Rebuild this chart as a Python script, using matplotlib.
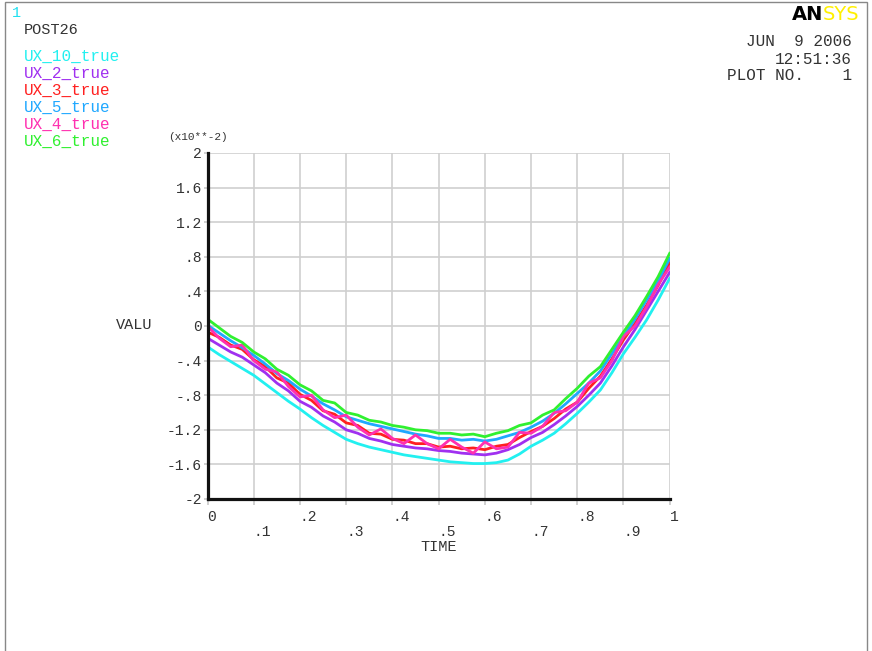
import numpy as np
import matplotlib
matplotlib.use("Agg")
import matplotlib.pyplot as plt
from matplotlib.patches import Rectangle

# ----- data (values shown in units of 1e-2)
time = np.linspace(0, 1, 41)

ux_10 = [-.24, -.33, -.41, -.49, -.57, -.67, -.77, -.87, -.96, -1.06, -1.15, -1.23, -1.31, -1.36,
         -1.40, -1.43, -1.46, -1.49, -1.51, -1.53, -1.55, -1.57, -1.58, -1.59, -1.59, -1.58, -1.55,
         -1.48, -1.39, -1.32, -1.24, -1.13, -1.01, -.88, -.74, -.54, -.32, -.13, .07, .30, .55]
ux_2 = [-.14, -.22, -.30, -.36, -.45, -.54, -.66, -.75, -.87, -.94, -1.04, -1.11, -1.20, -1.24,
        -1.30, -1.33, -1.37, -1.39, -1.41, -1.42, -1.44, -1.45, -1.47, -1.48, -1.49, -1.47, -1.43,
        -1.37, -1.29, -1.23, -1.14, -1.04, -.93, -.80, -.66, -.46, -.24, -.04, .18, .40, .62]
ux_3 = [-.07, -.13, -.22, -.27, -.39, -.47, -.60, -.66, -.79, -.86, -.98, -1.02, -1.12, -1.15,
        -1.24, -1.25, -1.31, -1.32, -1.36, -1.36, -1.40, -1.39, -1.42, -1.41, -1.43, -1.39, -1.37,
        -1.29, -1.22, -1.16, -1.07, -.96, -.88, -.72, -.58, -.38, -.16, .03, .24, .47, .73]
ux_5 = [.01, -.08, -.17, -.25, -.34, -.44, -.55, -.63, -.73, -.81, -.90, -.97, -1.05, -1.09,
        -1.13, -1.16, -1.19, -1.22, -1.25, -1.27, -1.30, -1.30, -1.32, -1.31, -1.33, -1.31, -1.27,
        -1.23, -1.17, -1.10, -1.01, -.90, -.78, -.66, -.52, -.32, -.12, .08, .30, .52, .78]
ux_4 = [.00, -.14, -.24, -.22, -.40, -.50, -.53, -.70, -.82, -.80, -.97, -1.06, -1.03, -1.17,
        -1.26, -1.19, -1.30, -1.36, -1.26, -1.36, -1.42, -1.31, -1.40, -1.47, -1.34, -1.42, -1.40,
        -1.23, -1.24, -1.16, -1.00, -.98, -.88, -.66, -.60, -.40, -.12, .00, .22, .48, .68]
ux_6 = [.08, -.02, -.12, -.19, -.30, -.38, -.50, -.57, -.68, -.75, -.86, -.89, -1.00, -1.03,
        -1.09, -1.11, -1.15, -1.17, -1.20, -1.21, -1.24, -1.24, -1.26, -1.25, -1.28, -1.24, -1.21,
        -1.15, -1.12, -1.03, -.97, -.84, -.72, -.58, -.47, -.27, -.07, .12, .34, .57, .84]

series = [ux_10, ux_2, ux_3, ux_5, ux_4, ux_6]
names = ["UX_10_true", "UX_2_true", "UX_3_true", "UX_5_true", "UX_4_true", "UX_6_true"]
colors = ["#22F0F0", "#A030F0", "#FF2020", "#20A8FF", "#FF30B0", "#30F030"]

xticks_even = [0, .2, .4, .6, .8, 1]
xlabels_even = ["0", ".2", ".4", ".6", ".8", "1"]
xticks_odd = [.1, .3, .5, .7, .9]
xlabels_odd = [".1", ".3", ".5", ".7", ".9"]
yticks = [2, 1.6, 1.2, .8, .4, 0, -.4, -.8, -1.2, -1.6, -2]
ylabels = ["2", "1.6", "1.2", ".8", ".4", "0", "-.4", "-.8", "-1.2", "-1.6", "-2"]

mono = "Liberation Mono"
txt_c = "#333333"

fig = plt.figure(figsize=(8.72, 6.51), dpi=100)
ax = fig.add_axes([0.238, 0.2335, 0.530, 0.5315])

for ys, c in zip(series, colors):
    ax.plot(time, ys, color=c, lw=2.0, solid_joinstyle="round")

ax.set_xlim(0, 1)
ax.set_ylim(-2, 2)
ax.set_xticks(xticks_even)
ax.set_xticklabels(xlabels_even, fontfamily=mono, fontsize=10.5, color=txt_c, ha="left")
ax.set_xticks(xticks_odd, minor=True)
ax.set_xticklabels(xlabels_odd, minor=True, fontfamily=mono, fontsize=10.5, color=txt_c, ha="left")
ax.set_yticks(yticks)
ax.set_yticklabels(ylabels, fontfamily=mono, fontsize=10.5, color=txt_c)
ax.tick_params(axis="x", which="major", length=4, width=1.2, color="#C8C8C8", pad=4)
ax.tick_params(axis="x", which="minor", length=4, width=1.2, color="#C8C8C8", pad=15)
ax.tick_params(axis="y", length=3, width=1.2, color="#C8C8C8", pad=1)
ax.grid(True, which="both", color="#CFCFCF", lw=1.2)
ax.set_axisbelow(True)
for s in ["top", "right"]:
    ax.spines[s].set_visible(False)
for s in ["left", "bottom"]:
    ax.spines[s].set_color("#111111")
    ax.spines[s].set_linewidth(2.3)

# labels
fig.text(134 / 872, 1 - 325 / 651, "VALU", fontfamily=mono, fontsize=11, color=txt_c,
         ha="center", va="center")
fig.text(439 / 872, 1 - 547 / 651, "TIME", fontfamily=mono, fontsize=11, color=txt_c,
         ha="center", va="center")
fig.text(198 / 872, 1 - 137 / 651, "(x10**-2)", fontfamily=mono, fontsize=8, color=txt_c,
         ha="center", va="center")

# header / legend
fig.text(12 / 872, 1 - 13 / 651, "1", fontfamily=mono, fontsize=11, color="#22E0F0",
         ha="left", va="center")
fig.text(24 / 872, 1 - 30 / 651, "POST26", fontfamily=mono, fontsize=11, color=txt_c,
         ha="left", va="center")
for i, (n, c) in enumerate(zip(names, colors)):
    fig.text(24 / 872, 1 - (56 + 17 * i) / 651, n, fontfamily=mono, fontsize=11.5, color=c,
             ha="left", va="center")

fig.text(852 / 872, 1 - 42 / 651, "JUN  9 2006", fontfamily=mono, fontsize=11.5, color=txt_c,
         ha="right", va="center")
fig.text(852 / 872, 1 - 59 / 651, "12:51:36", fontfamily=mono, fontsize=11.5, color=txt_c,
         ha="right", va="center")
fig.text(852 / 872, 1 - 76 / 651, "PLOT NO.    1", fontfamily=mono, fontsize=11.5, color=txt_c,
         ha="right", va="center")

# logo
fig.text(823 / 872, 1 - 14 / 651, "AN", fontfamily="DejaVu Sans", fontweight="bold",
         fontsize=14, color="black", ha="right", va="center")
fig.text(823 / 872, 1 - 14 / 651, "SYS", fontfamily="DejaVu Sans", fontsize=14,
         color="#FFF000", ha="left", va="center")

# frame
fig.patches.append(Rectangle((5 / 872, -0.05), 862 / 872, 1.05 - 2.5 / 651,
                             transform=fig.transFigure, fill=False, ec="#888888", lw=1.0))

fig.savefig("out.png", dpi=100)
